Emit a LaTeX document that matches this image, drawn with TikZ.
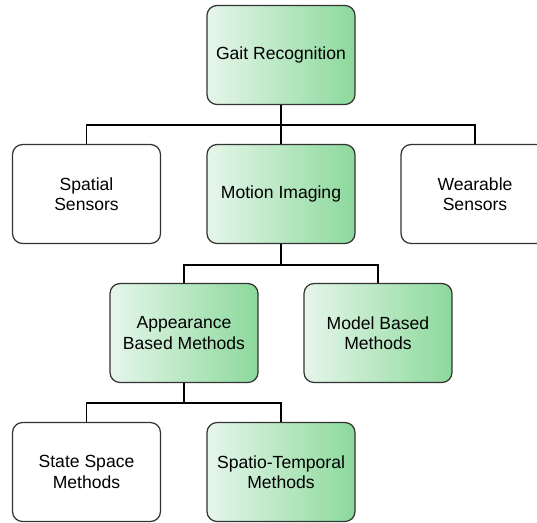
\documentclass[tikz,border=0pt]{standalone}
\usepackage{fontspec}
\setmainfont{Liberation Sans}
\usepackage{xcolor}
\usepackage{tikz}
\usetikzlibrary{calc}
\definecolor{boxline}{HTML}{333333}
\definecolor{greenlight}{HTML}{E6F6EA}
\definecolor{greendark}{HTML}{8CD99C}
\tikzstyle{box} = [draw=boxline, line width=0.7pt, rounded corners=0.2cm, minimum width=2.96cm, minimum height=1.98cm, inner sep=0pt, align=center, font=\fontsize{10}{11.6}\selectfont, fill=white]
\tikzstyle{greenbox} = [box, left color=greenlight, right color=greendark]
\tikzstyle{link} = [draw=black, line width=1pt]

\begin{document}
\begin{tikzpicture}[x=0.02cm, y=-0.02cm]
	\useasboundingbox (0,0) rectangle (537,522) ;

	\node[greenbox] (gait) at (281, 55) {Gait Recognition} ;

	\node[box] (spatial) at (86.5, 194) {Spatial\\Sensors} ;
	\node[greenbox] (motion) at (281, 194) {Motion Imaging} ;
	\node[box] (wearable) at (475, 194) {Wearable\\Sensors} ;

	\node[greenbox] (appearance) at (184, 333) {Appearance\\Based Methods} ;
	\node[greenbox] (model) at (378, 333) {Model Based\\Methods} ;

	\node[box] (state) at (86.5, 472) {State Space\\Methods} ;
	\node[greenbox] (spatio) at (281, 472) {Spatio-Temporal\\Methods} ;

	\draw[link] (gait.south) -- (motion.north) ;
	\draw[link] (gait.south) -- ++(0, 20) -| (spatial.north) ;
	\draw[link] (gait.south) -- ++(0, 20) -| (wearable.north) ;

	\draw[link] (motion.south) -- ++(0, 21) -| (appearance.north) ;
	\draw[link] (motion.south) -- ++(0, 21) -| (model.north) ;

	\draw[link] (appearance.south) -- ++(0, 20) -| (state.north) ;
	\draw[link] (appearance.south) -- ++(0, 20) -| (spatio.north) ;
\end{tikzpicture}
\end{document}
